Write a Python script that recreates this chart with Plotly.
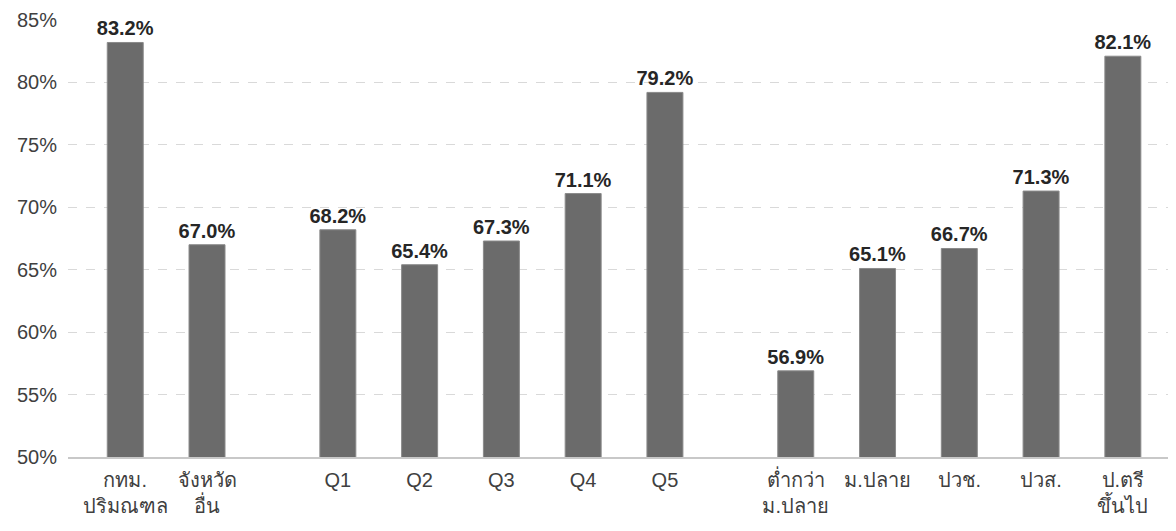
import plotly.graph_objects as go

groups = [
    ["กทม.<br>ปริมณฑล", "จังหวัด<br>อื่น"],
    ["Q1", "Q2", "Q3", "Q4", "Q5"],
    ["ต่ำกว่า<br>ม.ปลาย", "ม.ปลาย", "ปวช.", "ปวส.", "ป.ตรี<br>ขึ้นไป"],
]
values = [
    [83.2, 67.0],
    [68.2, 65.4, 67.3, 71.1, 79.2],
    [56.9, 65.1, 66.7, 71.3, 82.1],
]
y_ticks = [50, 55, 60, 65, 70, 75, 80, 85]

GROUP_GAP = 0.6
labels, vals, xs = [], [], []
pos = 0.0
for g, (cats, v) in enumerate(zip(groups, values)):
    for c, val in zip(cats, v):
        labels.append(c)
        vals.append(val)
        xs.append(pos)
        pos += 1
    pos += GROUP_GAP

font = "Liberation Sans, Arial, Noto Sans, sans-serif"

fig = go.Figure(go.Bar(
    x=xs, y=vals, width=0.44,
    marker=dict(color="#6b6b6b", line=dict(color="#8a8a8a", width=1)),
    text=[f"{v:.1f}%" for v in vals], textposition="outside",
    constraintext="none",
    textfont=dict(family=font, size=20, color="#262626"),
    texttemplate="<b>%{text}</b>", cliponaxis=False,
))

fig.update_layout(
    width=1168, height=523,
    margin=dict(l=60, r=0, t=12, b=74),
    paper_bgcolor="white", plot_bgcolor="white",
    showlegend=False,
    font=dict(family=font, size=19, color="#404040"),
    xaxis=dict(
        tickmode="array", tickvals=xs, ticktext=labels,
        range=[-0.70, 12.85], showgrid=False, zeroline=False,
        showline=True, linecolor="#c8c8c8", linewidth=2,
        ticks="outside", ticklen=4, tickcolor="rgba(0,0,0,0)",
        tickfont=dict(size=20, color="#404040"),
    ),
    yaxis=dict(
        range=[50, 85], tickmode="array", tickvals=y_ticks,
        ticktext=[f"{t}%" for t in y_ticks],
        showgrid=True, gridcolor="#d9d9d9", griddash="dash",
        gridwidth=1, zeroline=False, showline=False,
        ticks="outside", ticklen=6, tickcolor="rgba(0,0,0,0)",
        tickfont=dict(size=20, color="#404040"),
    ),
)

fig.write_html("out.html")
